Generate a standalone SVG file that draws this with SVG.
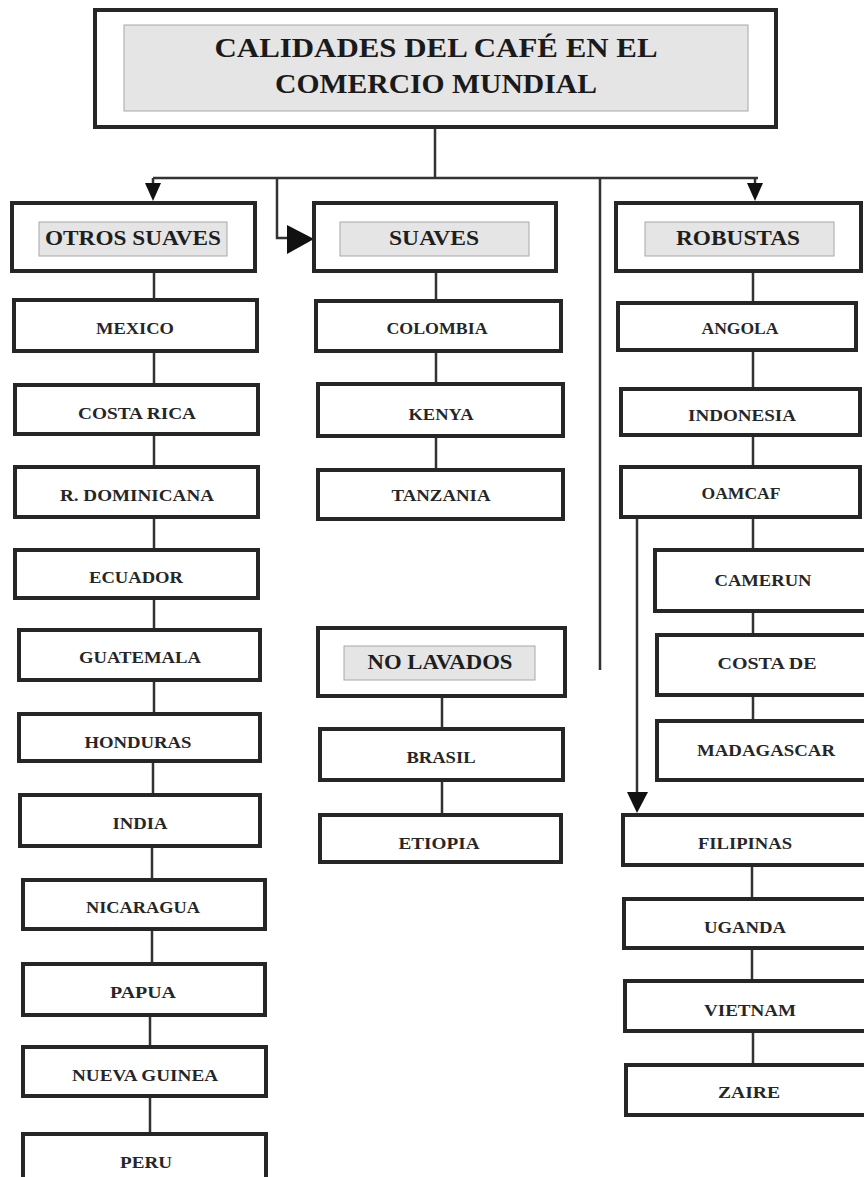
<svg xmlns="http://www.w3.org/2000/svg" width="864" height="1177" viewBox="0 0 864 1177">
<style>
.box{fill:#fff;stroke:#262626;stroke-width:4}
.inner{fill:#e5e5e5;stroke:#a8a8a8;stroke-width:1}
.lbl{font-family:"Liberation Serif","Times New Roman",serif;font-weight:bold;font-size:16px;fill:#262626;text-anchor:middle;dominant-baseline:central}
.hdr{font-family:"Liberation Serif","Times New Roman",serif;font-weight:bold;font-size:21px;fill:#1e1e1e;text-anchor:middle;dominant-baseline:central}
.ttl{font-family:"Liberation Serif","Times New Roman",serif;font-weight:bold;font-size:28px;fill:#1a1a1a;text-anchor:middle;dominant-baseline:central}
.con{fill:none;stroke:#333;stroke-width:2.5}
.ah{fill:#111}
</style>
<rect width="864" height="1177" fill="#fff"/>
<g id="connectors">
<path class="con" d="M435 127V178M153 178H758M153 178V186M755 178V186M277 178V238H292M600 178V670"/>
<polygon class="ah" points="145,183 161,183 153,201"/>
<polygon class="ah" points="747,183 763,183 755,201"/>
<polygon class="ah" points="287,225 314,239 287,254"/>
<path class="con" d="M154 271V300M154 351V385M154 434V467M154 517V550M154 598V630M154 680V714M153 761V795M152 846V880M152 929V964M150 1015V1047M150 1096V1134"/>
<path class="con" d="M436 271V301M436 351V384M436 436V470M442 696V729M442 780V815"/>
<path class="con" d="M753 271V303M753 350V389M753 435V467M753 517V550M753 611V635M753 695V721M752 865V899M752 948V981M753 1031V1065"/>
<path class="con" d="M637 517V795" stroke-width="3.5"/>
<polygon class="ah" points="627,792 648,792 637,813"/>
</g>
<g id="title">
<rect class="box" x="95" y="10" width="681" height="117"/>
<rect class="inner" x="124" y="25" width="624" height="86"/>
<text class="ttl" x="436" y="47" textLength="443" lengthAdjust="spacingAndGlyphs">CALIDADES DEL CAFÉ EN EL</text>
<text class="ttl" x="436" y="83" textLength="322" lengthAdjust="spacingAndGlyphs">COMERCIO MUNDIAL</text>
</g>
<g id="otros-suaves">
<rect class="box" x="12" y="203" width="243" height="68"/>
<rect class="inner" x="39" y="222" width="188" height="34"/>
<text class="hdr" x="133" y="238" textLength="176" lengthAdjust="spacingAndGlyphs">OTROS SUAVES</text>
</g>
<g id="suaves">
<rect class="box" x="314" y="203" width="242" height="68"/>
<rect class="inner" x="340" y="222" width="189" height="34"/>
<text class="hdr" x="434" y="238" textLength="90" lengthAdjust="spacingAndGlyphs">SUAVES</text>
</g>
<g id="robustas">
<rect class="box" x="616" y="203" width="245" height="68"/>
<rect class="inner" x="645" y="222" width="189" height="34"/>
<text class="hdr" x="738" y="238" textLength="124" lengthAdjust="spacingAndGlyphs">ROBUSTAS</text>
</g>
<g id="no-lavados">
<rect class="box" x="318" y="628" width="247" height="68"/>
<rect class="inner" x="344" y="646" width="191" height="34"/>
<text class="hdr" x="440" y="662" textLength="145" lengthAdjust="spacingAndGlyphs">NO LAVADOS</text>
</g>
<g id="mexico"><rect class="box" x="14" y="300" width="243" height="51"/><text class="lbl" x="135" y="328" textLength="78" lengthAdjust="spacingAndGlyphs">MEXICO</text></g>
<g id="costa-rica"><rect class="box" x="15" y="385" width="243" height="49"/><text class="lbl" x="137" y="413" textLength="118" lengthAdjust="spacingAndGlyphs">COSTA RICA</text></g>
<g id="r-dominicana"><rect class="box" x="15" y="467" width="243" height="50"/><text class="lbl" x="137" y="495" textLength="154" lengthAdjust="spacingAndGlyphs">R. DOMINICANA</text></g>
<g id="ecuador"><rect class="box" x="15" y="550" width="243" height="48"/><text class="lbl" x="136" y="577" textLength="94" lengthAdjust="spacingAndGlyphs">ECUADOR</text></g>
<g id="guatemala"><rect class="box" x="19" y="630" width="241" height="50"/><text class="lbl" x="140" y="657" textLength="122" lengthAdjust="spacingAndGlyphs">GUATEMALA</text></g>
<g id="honduras"><rect class="box" x="19" y="714" width="241" height="47"/><text class="lbl" x="138" y="742" textLength="107" lengthAdjust="spacingAndGlyphs">HONDURAS</text></g>
<g id="india"><rect class="box" x="20" y="795" width="240" height="51"/><text class="lbl" x="140" y="823" textLength="55" lengthAdjust="spacingAndGlyphs">INDIA</text></g>
<g id="nicaragua"><rect class="box" x="23" y="880" width="242" height="49"/><text class="lbl" x="143" y="907" textLength="114" lengthAdjust="spacingAndGlyphs">NICARAGUA</text></g>
<g id="papua"><rect class="box" x="23" y="964" width="242" height="51"/><text class="lbl" x="143" y="992" textLength="66" lengthAdjust="spacingAndGlyphs">PAPUA</text></g>
<g id="nueva-guinea"><rect class="box" x="23" y="1047" width="243" height="49"/><text class="lbl" x="145" y="1075" textLength="146" lengthAdjust="spacingAndGlyphs">NUEVA GUINEA</text></g>
<g id="peru"><rect class="box" x="23" y="1134" width="243" height="60"/><text class="lbl" x="146" y="1162" textLength="52" lengthAdjust="spacingAndGlyphs">PERU</text></g>
<g id="colombia"><rect class="box" x="316" y="301" width="245" height="50"/><text class="lbl" x="437" y="328" textLength="101" lengthAdjust="spacingAndGlyphs">COLOMBIA</text></g>
<g id="kenya"><rect class="box" x="318" y="384" width="245" height="52"/><text class="lbl" x="441" y="414" textLength="65" lengthAdjust="spacingAndGlyphs">KENYA</text></g>
<g id="tanzania"><rect class="box" x="318" y="470" width="245" height="49"/><text class="lbl" x="441" y="495" textLength="99" lengthAdjust="spacingAndGlyphs">TANZANIA</text></g>
<g id="brasil"><rect class="box" x="320" y="729" width="243" height="51"/><text class="lbl" x="441" y="757" textLength="69" lengthAdjust="spacingAndGlyphs">BRASIL</text></g>
<g id="etiopia"><rect class="box" x="320" y="815" width="241" height="47"/><text class="lbl" x="439" y="843" textLength="81" lengthAdjust="spacingAndGlyphs">ETIOPIA</text></g>
<g id="angola"><rect class="box" x="618" y="303" width="238" height="47"/><text class="lbl" x="740" y="328" textLength="77" lengthAdjust="spacingAndGlyphs">ANGOLA</text></g>
<g id="indonesia"><rect class="box" x="621" y="389" width="239" height="46"/><text class="lbl" x="742" y="415" textLength="108" lengthAdjust="spacingAndGlyphs">INDONESIA</text></g>
<g id="oamcaf"><rect class="box" x="621" y="467" width="239" height="50"/><text class="lbl" x="741" y="493" textLength="79" lengthAdjust="spacingAndGlyphs">OAMCAF</text></g>
<g id="camerun"><rect class="box" x="655" y="550" width="220" height="61"/><text class="lbl" x="763" y="580" textLength="97" lengthAdjust="spacingAndGlyphs">CAMERUN</text></g>
<g id="costa-de"><rect class="box" x="657" y="635" width="220" height="60"/><text class="lbl" x="767" y="663" textLength="99" lengthAdjust="spacingAndGlyphs">COSTA DE</text></g>
<g id="madagascar"><rect class="box" x="657" y="721" width="220" height="59"/><text class="lbl" x="766" y="750" textLength="138" lengthAdjust="spacingAndGlyphs">MADAGASCAR</text></g>
<g id="filipinas"><rect class="box" x="623" y="815" width="245" height="50"/><text class="lbl" x="745" y="843" textLength="94" lengthAdjust="spacingAndGlyphs">FILIPINAS</text></g>
<g id="uganda"><rect class="box" x="624" y="899" width="245" height="49"/><text class="lbl" x="745" y="927" textLength="82" lengthAdjust="spacingAndGlyphs">UGANDA</text></g>
<g id="vietnam"><rect class="box" x="625" y="981" width="245" height="50"/><text class="lbl" x="750" y="1010" textLength="92" lengthAdjust="spacingAndGlyphs">VIETNAM</text></g>
<g id="zaire"><rect class="box" x="626" y="1065" width="245" height="50"/><text class="lbl" x="749" y="1092" textLength="62" lengthAdjust="spacingAndGlyphs">ZAIRE</text></g>
</svg>
